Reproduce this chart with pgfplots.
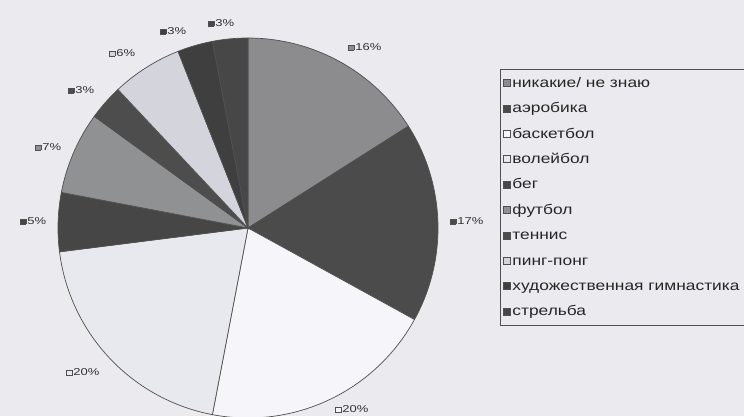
\documentclass[border=0pt]{standalone}
\usepackage{pgfplots}
\pgfplotsset{compat=1.18}
\usepackage{fontspec}
\setmainfont{Liberation Sans}
\newfontfamily\wide[FakeStretch=1.3]{Liberation Sans}
\newfontfamily\legwide[FakeStretch=1.24]{Liberation Sans}
\definecolor{bgc}{HTML}{EBEBEF}
\definecolor{cA}{HTML}{8C8C8E}
\definecolor{cB}{HTML}{4A4B4A}
\definecolor{cC}{HTML}{F6F6FA}
\definecolor{cD}{HTML}{E8E8EF}
\definecolor{cE}{HTML}{454645}
\definecolor{cF}{HTML}{909193}
\definecolor{cG}{HTML}{4C4D4C}
\definecolor{cH}{HTML}{D4D4DC}
\definecolor{cI}{HTML}{3E3F3E}
\definecolor{cJ}{HTML}{464746}
\definecolor{edge}{HTML}{505050}
\newcommand{\sq}[1]{{\setlength{\fboxsep}{0pt}\setlength{\fboxrule}{0.6pt}\fcolorbox{edge}{#1}{\rule{0pt}{5pt}\rule{5pt}{0pt}}}\hspace{1pt}}
\newcommand{\slice}[4]{% color, start %, end %, legend
  \addplot[fill=#1, draw=edge, line width=0.7pt, domain=#2:#3, samples=60, variable=\t]
    ({248+190*sin(3.6*\t)},{228-190*cos(3.6*\t)}) -- (248,228) -- cycle;
  \addlegendentry{#4}}
\begin{document}
\begin{tikzpicture}
\useasboundingbox (0,0) rectangle (744pt,416pt);
\begin{axis}[
  width=744pt, height=416pt, scale only axis,
  xmin=0, xmax=744, ymin=0, ymax=416, y dir=reverse,
  axis line style={draw=none}, xtick=\empty, ytick=\empty,
  axis background/.style={fill=bgc},
  legend cell align=left,
  legend image code/.code={\draw[#1, draw=edge, line width=0.6pt] (0pt,-3.5pt) rectangle (7pt,3.5pt);},
  legend style={at={(axis cs:500,69)}, anchor=north west, fill=bgc, draw=edge,
    line width=0.6pt, font=\legwide\fontsize{14}{16}\selectfont, row sep=9.9pt,
    inner xsep=3pt, inner ysep=6pt, text=black!85,
    nodes={inner xsep=1.5pt, inner ysep=0pt, text height=12pt, text depth=3.5pt}},
]
% values (%): 16, 17, 20, 20, 5, 7, 3, 6, 3, 3 -> cumulative bounds
\slice{cA}{0}{16}{никакие/ не знаю}
\slice{cB}{16}{33}{аэробика}
\slice{cC}{33}{53}{баскетбол}
\slice{cD}{53}{73}{волейбол}
\slice{cE}{73}{78}{бег}
\slice{cF}{78}{85}{футбол}
\slice{cG}{85}{88}{теннис}
\slice{cH}{88}{94}{пинг-понг}
\slice{cI}{94}{97}{художественная гимнастика}
\slice{cJ}{97}{100}{стрельба}
\begin{scope}[every node/.style={anchor=west, inner sep=0pt, font=\wide\fontsize{10}{12}\selectfont, text=black!80}]
\node at (axis cs:348,47) {\sq{cA}16\%};
\node at (axis cs:450,221) {\sq{cB}17\%};
\node at (axis cs:335,409) {\sq{cC}20\%};
\node at (axis cs:66,372) {\sq{cD}20\%};
\node at (axis cs:20,221) {\sq{cE}5\%};
\node at (axis cs:35,147) {\sq{cF}7\%};
\node at (axis cs:68,90) {\sq{cG}3\%};
\node at (axis cs:109,53) {\sq{cH}6\%};
\node at (axis cs:160,31) {\sq{cI}3\%};
\node at (axis cs:208,23) {\sq{cJ}3\%};
\end{scope}
\end{axis}
\end{tikzpicture}
\end{document}
